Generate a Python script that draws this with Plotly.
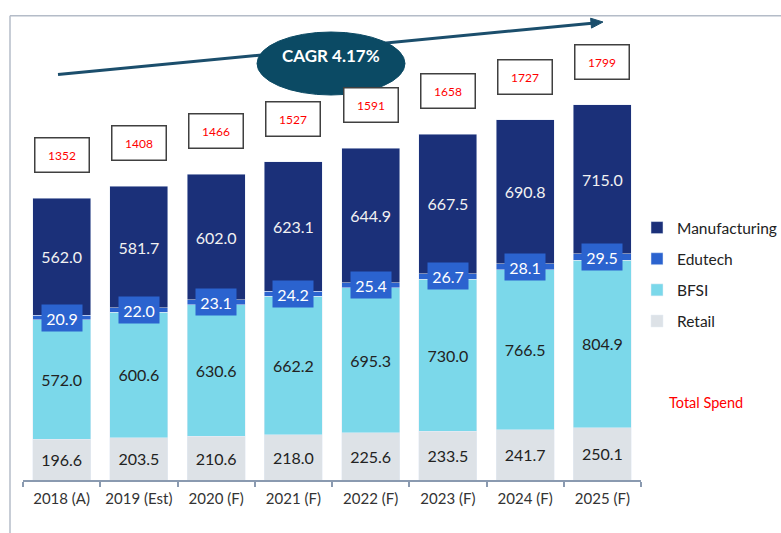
import plotly.graph_objects as go

categories = ["2018 (A)", "2019 (Est)", "2020 (F)", "2021 (F)", "2022 (F)", "2023 (F)", "2024 (F)", "2025 (F)"]
retail = [196.6, 203.5, 210.6, 218.0, 225.6, 233.5, 241.7, 250.1]
bfsi = [572.0, 600.6, 630.6, 662.2, 695.3, 730.0, 766.5, 804.9]
edutech = [20.9, 22.0, 23.1, 24.2, 25.4, 26.7, 28.1, 29.5]
manufacturing = [562.0, 581.7, 602.0, 623.1, 644.9, 667.5, 690.8, 715.0]
totals = [1352, 1408, 1466, 1527, 1591, 1658, 1727, 1799]
cagr_label = "CAGR 4.17%"

W, H = 781, 533
L, R, T, B = 23, 140, 16, 53
PW, PH = W - L - R, H - T - B


def px(x):
    return (x - L) / PW


def py(y):
    return (H - B - y) / PH


FONT = "Lato"
C_MAN = "#1b3079"
C_EDU = "#2b63cf"
C_BFSI = "#7bd8ea"
C_RET = "#dde2e7"

fig = go.Figure()

fig.add_trace(go.Bar(
    x=categories, y=retail, name="Retail", marker_color=C_RET,
    legendgroup="r", legendrank=4,
    text=[f"{v:.1f}" for v in retail], textposition="inside", insidetextanchor="middle",
    textfont=dict(family=FONT, size=16, color="#222222"), textangle=0,
))
fig.add_trace(go.Bar(
    x=categories, y=bfsi, name="BFSI", marker_color=C_BFSI,
    legendgroup="b", legendrank=3,
    text=[f"{v:.1f}" for v in bfsi], textposition="inside", insidetextanchor="middle",
    textfont=dict(family=FONT, size=16, color="#222222"), textangle=0,
))
fig.add_trace(go.Bar(
    x=categories, y=edutech, name="Edutech", marker_color=C_EDU,
    legendgroup="e", legendrank=2, textposition="none",
))
fig.add_trace(go.Bar(
    x=categories, y=manufacturing, name="Manufacturing", marker_color=C_MAN,
    legendgroup="m", legendrank=1,
    text=[f"{v:.1f}" for v in manufacturing], textposition="inside", insidetextanchor="middle",
    textfont=dict(family=FONT, size=16, color="#f2f2f2"), textangle=0,
))

annotations = []
# Edutech labels in boxes
for c, r_, b_, e_ in zip(categories, retail, bfsi, edutech):
    annotations.append(dict(
        x=c, y=r_ + b_ + e_ / 2, xref="x", yref="y", text=f"{e_:.1f}", showarrow=False,
        font=dict(family=FONT, size=16, color="#ffffff"), bgcolor=C_EDU,
        width=36, height=22, borderpad=2, yanchor="middle",
    ))
# Totals in boxes
for c, t in zip(categories, totals):
    annotations.append(dict(
        x=c, y=t, xref="x", yref="y", yshift=43, text=str(t), showarrow=False,
        font=dict(family=FONT, size=12, color="#ff0000"), bgcolor="#ffffff",
        bordercolor="#404040", borderwidth=1.5, borderpad=1, width=51, height=31,
        yanchor="middle",
    ))
# CAGR label
annotations.append(dict(
    x=px(331), y=py(55), xref="paper", yref="paper", text=f"<b>{cagr_label}</b>",
    showarrow=False, xanchor="center", yanchor="middle",
    font=dict(family=FONT, size=17, color="#ffffff"),
))
annotations.append(dict(
    x=px(667), y=py(402), xref="paper", yref="paper", text="Total Spend",
    showarrow=False, xanchor="left", yanchor="middle",
    font=dict(family=FONT, size=14.5, color="#ff0000"),
))

shapes = [
    # frame
    dict(type="line", xref="paper", yref="paper", x0=px(10), x1=px(781), y0=py(15.7), y1=py(15.7),
         line=dict(color="#b4bcc8", width=1.5)),
    dict(type="line", xref="paper", yref="paper", x0=px(10), x1=px(10), y0=py(15.7), y1=py(533),
         line=dict(color="#b4bcc8", width=1.5)),
    # arrow line
    dict(type="line", xref="paper", yref="paper", x0=px(58), y0=py(74.5), x1=px(592), y1=py(23.2),
         line=dict(color="#1b4e6c", width=3)),
    # ellipse
    dict(type="circle", xref="paper", yref="paper", x0=px(257), x1=px(405), y0=py(95), y1=py(32),
         fillcolor="#0b4a64", line=dict(color="#0b4a64", width=1)),
    # arrow head
    dict(type="path", xref="paper", yref="paper",
         path=f"M {px(603)} {py(22)} L {px(591.5)} {py(28.1)} L {px(590.6)} {py(18.2)} Z",
         fillcolor="#1b4e6c", line=dict(color="#1b4e6c", width=1)),
]

fig.update_layout(
    width=W, height=H,
    margin=dict(l=L, r=R, t=T, b=B, autoexpand=False),
    barmode="stack", bargap=0.25,
    plot_bgcolor="#ffffff", paper_bgcolor="#ffffff",
    font=dict(family=FONT, color="#222222"),
    showlegend=True,
    legend=dict(
        x=px(637), y=py(211), xanchor="left", yanchor="top",
        traceorder="grouped", tracegroupgap=8,
        font=dict(family=FONT, size=15.5, color="#222222"),
        bgcolor="rgba(0,0,0,0)",
    ),
    xaxis=dict(
        showline=True, linecolor="#8a9ab0", linewidth=1.5,
        ticks="outside", tickson="boundaries", ticklen=5, tickcolor="#8a9ab0", tickwidth=1.5,
        tickfont=dict(family=FONT, size=15, color="#333333"), tickangle=0,
        ticklabelstandoff=4, showgrid=False, zeroline=False,
    ),
    yaxis=dict(range=[0, PH / 0.2085], visible=False, showgrid=False, zeroline=False),
    annotations=annotations,
    shapes=shapes,
)

fig.write_html("out.html", config={"displayModeBar": False},
               post_script="document.body.style.margin='0';")
